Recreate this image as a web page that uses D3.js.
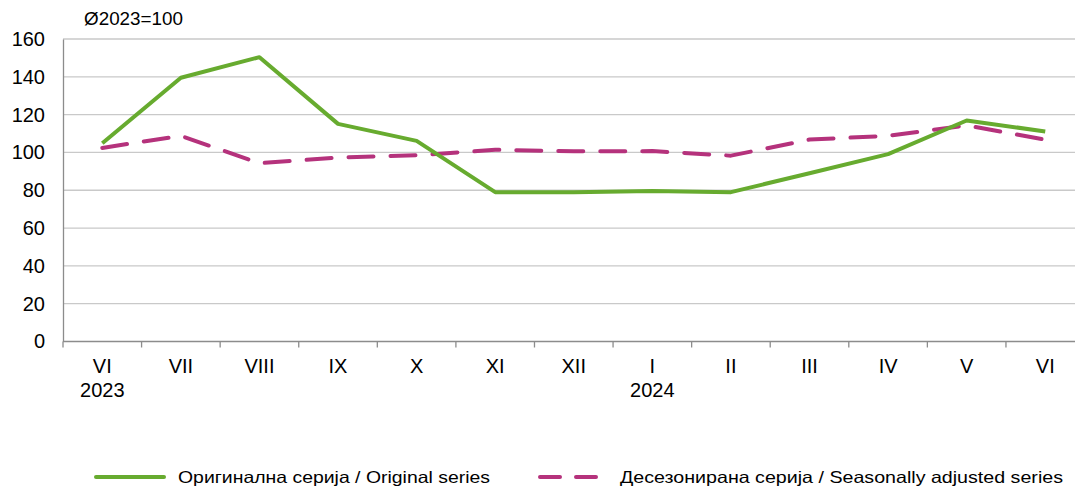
<!DOCTYPE html>
<html><head><meta charset="utf-8">
<script src="https://cdn.jsdelivr.net/npm/d3@7"></script>
<style>body{margin:0;background:#fff;} svg{display:block;font-family:"Liberation Sans",Arial,sans-serif;}</style>
</head><body>
<svg id="c" width="1075" height="488"></svg>
<script>
const categories = ["VI","VII","VIII","IX","X","XI","XII","I","II","III","IV","V","VI"];
const yearLabels = ["2023","","","","","","","2024","","","","",""];
const original = [104.9, 139.5, 150.4, 115.1, 106.1, 79.0, 79.0, 79.6, 79.0, 89.0, 99.1, 116.9, 111.1];
const seasonal = [102.4, 108.8, 94.3, 97.3, 98.5, 101.4, 100.6, 100.7, 98.3, 106.8, 108.8, 114.3, 106.7];
const yTicks = [0,20,40,60,80,100,120,140,160];
const seriesNames = ["Оригинална серија / Original series","Десезонирана серија / Seasonally adjusted series"];
const unitLabel = "Ø2023=100";

const svg = d3.select("#c");
const mLeft = 63, bandW = 78.58, mTop = 39, mBottom = 341.5;
const x = d3.scaleBand().domain(d3.range(categories.length)).range([mLeft, mLeft + bandW*categories.length]);
const y = d3.scaleLinear().domain([0,160]).range([mBottom, mTop]);

// gridlines
svg.append("g").selectAll("line").data(yTicks.filter(d=>d>0)).join("line")
  .attr("x1", mLeft).attr("x2", 1075).attr("y1", d=>y(d)).attr("y2", d=>y(d))
  .attr("stroke", "#c9c9c9").attr("stroke-width", 1.3);

// y axis
const yAxis = svg.append("g").attr("transform", `translate(${mLeft},0)`)
  .call(d3.axisLeft(y).tickValues(yTicks).tickSize(0).tickPadding(18));
yAxis.select(".domain").attr("stroke", "#8c8c8c").attr("stroke-width", 1.3);
yAxis.selectAll("text").attr("font-size", 20).attr("fill", "#000").attr("font-family", "Liberation Sans, Arial, sans-serif");

// x axis
svg.append("line").attr("x1", mLeft).attr("x2", 1075).attr("y1", mBottom).attr("y2", mBottom)
  .attr("stroke", "#8c8c8c").attr("stroke-width", 1.3);
svg.append("g").selectAll("line").data(d3.range(categories.length+1)).join("line")
  .attr("x1", i=>mLeft + i*bandW).attr("x2", i=>mLeft + i*bandW)
  .attr("y1", mBottom).attr("y2", mBottom+6).attr("stroke", "#8c8c8c").attr("stroke-width", 1.3);
svg.append("g").selectAll("text").data(categories).join("text")
  .attr("x", (d,i)=>x(i)+x.bandwidth()/2).attr("y", 373)
  .attr("text-anchor", "middle").attr("font-size", 20).attr("fill", "#000").text(d=>d);
svg.append("g").selectAll("text").data(yearLabels).join("text")
  .attr("x", (d,i)=>x(i)+x.bandwidth()/2).attr("y", 397)
  .attr("text-anchor", "middle").attr("font-size", 20).attr("fill", "#000").text(d=>d);

svg.append("text").attr("x", 84).attr("y", 25).attr("font-size", 17.5).attr("fill", "#000")
  .attr("textLength", 99).attr("lengthAdjust","spacingAndGlyphs").text(unitLabel);

const line = d3.line().x((d,i)=>x(i)+x.bandwidth()/2).y(d=>y(d));
const green = "#67ab2f", magenta = "#b5327c";
svg.append("path").datum(seasonal).attr("d", line).attr("fill","none")
  .attr("stroke", magenta).attr("stroke-width", 4).attr("stroke-dasharray","25,17")
  .attr("stroke-linecap","round").attr("stroke-linejoin","round");
svg.append("path").datum(original).attr("d", line).attr("fill","none")
  .attr("stroke", green).attr("stroke-width", 4).attr("stroke-linejoin","round");

// legend
const lg = svg.append("g");
lg.append("line").attr("x1", 96).attr("x2", 164).attr("y1", 477).attr("y2", 477)
  .attr("stroke", green).attr("stroke-width", 4).attr("stroke-linecap","round");
lg.append("text").attr("x", 178).attr("y", 483).attr("font-size", 16.5).attr("fill","#000")
  .attr("textLength", 312).attr("lengthAdjust","spacingAndGlyphs").text(seriesNames[0]);
lg.append("line").attr("x1", 540).attr("x2", 606).attr("y1", 477).attr("y2", 477)
  .attr("stroke", magenta).attr("stroke-width", 4).attr("stroke-linecap","round").attr("stroke-dasharray","20,16");
lg.append("text").attr("x", 620).attr("y", 483).attr("font-size", 16.5).attr("fill","#000")
  .attr("textLength", 443).attr("lengthAdjust","spacingAndGlyphs").text(seriesNames[1]);
</script>
</body></html>
